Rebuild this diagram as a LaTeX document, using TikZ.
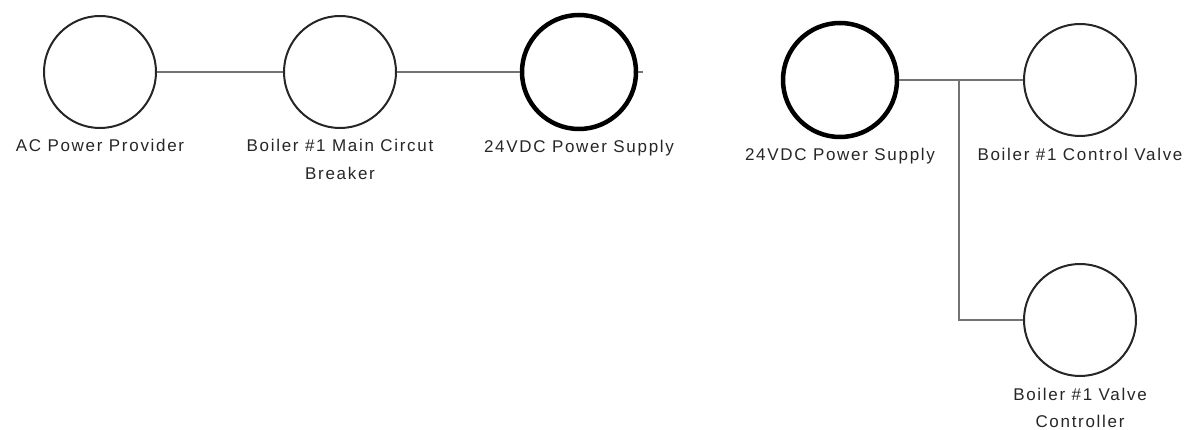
\documentclass[tikz,border=0pt]{standalone}
\usepackage{fontspec}
\setmainfont{Liberation Sans}[LetterSpace=10]
\begin{document}
\begin{tikzpicture}[x=1pt,y=-1pt,
  thincirc/.style={circle,draw=black!85,line width=2pt,minimum size=112pt,inner sep=0pt},
  thickcirc/.style={circle,draw=black,line width=4.5pt,minimum size=114pt,inner sep=0pt},
  wire/.style={draw=black!55,line width=2.5pt},
  lbl/.style={anchor=base,inner sep=0pt,text=black!85,font=\fontsize{17}{20}\selectfont}]
\useasboundingbox (0,0) rectangle (1192,430);
\node[thincirc] (c1) at (100,72) {};
\node[thincirc] (c2) at (340,72) {};
\node[thickcirc] (c3) at (579,72) {};
\node[thickcirc] (c4) at (840,80) {};
\node[thincirc] (c5) at (1080,80) {};
\node[thincirc] (c6) at (1080,320) {};
\coordinate (stub) at (643,72);
\coordinate (j) at (959,80);
\draw[wire] (c1.east) -- (c2.west);
\draw[wire] (c2.east) -- (c3.west);
\draw[wire] (c3.east) -- (stub);
\draw[wire] (c4.east) -- (j) -- (c5.west);
\draw[wire] (j) |- (c6.west);
\node[lbl] (l1) at (100,152) {AC Power Provider};
\node[lbl] (l2a) at (340,152) {Boiler \#1 Main Circut};
\node[lbl] (l2b) at (340,180) {Breaker};
\node[lbl] (l3) at (579,153) {24VDC Power Supply};
\node[lbl] (l4) at (840,161) {24VDC Power Supply};
\node[lbl] (l5) at (1080,161) {Boiler \#1 Control Valve};
\node[lbl] (l6a) at (1080,400) {Boiler \#1 Valve};
\node[lbl] (l6b) at (1080,427) {Controller};
\end{tikzpicture}
\end{document}
